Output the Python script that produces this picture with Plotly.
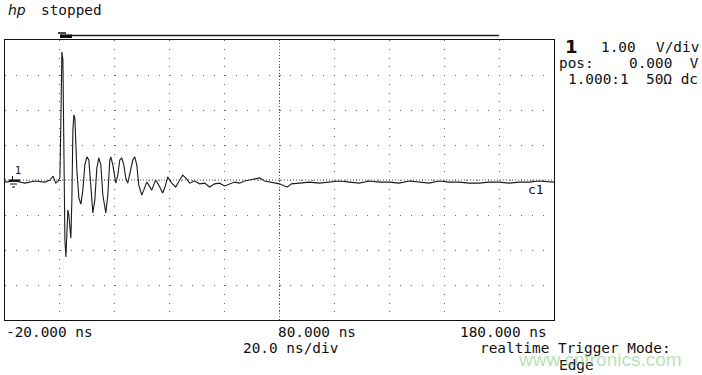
import plotly.graph_objects as go

# ---- data (time in ns, amplitude in V) ----
time_ns = [-20, -16.4, -12.7, -9.1, -5.5, -3.6, -2.5, -1.5, -0.7, 0,
           0.36, 0.73, 1.09, 1.45, 1.82, 2.18, 2.55, 2.91, 3.27, 4.0,
           4.36, 4.73, 5.09, 5.45, 6.18, 6.91, 7.64, 8.36, 9.09, 9.82,
           10.55, 11.27, 12.0, 12.73, 13.45, 14.18, 14.91, 15.64, 16.73, 17.45,
           18.18, 18.55, 19.27, 20.36, 21.09, 21.82, 22.55, 23.27, 24.0, 24.73,
           25.45, 26.55, 27.27, 28.0, 28.73, 29.82, 30.55, 31.64, 32.36, 33.45,
           34.18, 34.91, 36.0, 37.45, 38.18, 39.27, 40.73, 42.18, 43.64, 44.73,
           46.18, 47.27, 49.09, 50.91, 52.73, 54.55, 56.36, 58.18, 60.0, 61.82,
           63.64, 65.45, 67.27, 69.09, 70.91, 72.73, 74.55, 76.36, 78.18, 80.0,
           81.82, 82.91, 84.36, 87.27, 90.91, 94.55, 98.18, 101.8, 105.5, 109.1,
           112.7, 116.4, 120.0, 123.6, 127.3, 130.9, 134.5, 138.2, 141.8, 145.5,
           149.1, 152.7, 156.4, 160.0, 163.6, 167.3, 170.9, 174.5, 180.0]
volts = [-0.06, -0.03, -0.09, -0.03, -0.06, 0, 0.11, -0.09, -0.03, 0.06,
         1.71, 3.66, 3.43, 0, -1.71, -2.2, -1.57, -0.86, -1.0, -1.66,
         -0.57, 1.43, 1.86, 1.77, 0.29, -0.51, -0.69, -0.29, 0.43, 0.66,
         0.57, -0.29, -0.94, -0.57, 0.34, 0.63, 0.43, -0.43, -0.94, -0.43,
         0.57, 0.66, 0.43, -0.09, 0.14, 0.57, 0.63, 0.43, 0.06, -0.09,
         0.14, 0.57, 0.66, 0.43, -0.14, -0.43, -0.29, -0.06, -0.14, -0.29,
         -0.14, 0, -0.14, -0.37, -0.23, 0.09, -0.09, -0.2, 0, 0.14,
         0.03, -0.09, -0.03, -0.11, -0.09, -0.2, -0.11, -0.09, -0.17, -0.11,
         -0.06, -0.09, -0.03, 0, 0.03, 0.06, -0.03, -0.06, -0.09, -0.11,
         -0.17, -0.2, -0.11, -0.09, -0.06, -0.09, -0.06, -0.03, -0.06, -0.09,
         -0.03, -0.06, -0.06, -0.09, -0.03, -0.06, -0.09, -0.03, -0.06, -0.06,
         -0.09, -0.09, -0.06, -0.06, -0.09, -0.06, -0.06, -0.03, -0.06]

x_range = [-20, 180]        # ns
y_range = [-4, 4]           # V
x_div = 20                  # ns/div
y_div = 1                   # V/div
trigger_window = [0, 160]   # ns

x_labels = ["-20.000 ns", "80.000 ns", "180.000 ns"]
timebase_label = "20.0 ns/div"

# ---- layout geometry ----
W, H = 702, 375
L, R, T, B = 5, 148, 40, 55
PW, PH = W - L - R, H - T - B

def px(x):
    return (x - L) / PW

def py(y):
    return (H - B - y) / PH

MONO = "DejaVu Sans Mono"
FS = 14.4

fig = go.Figure()
fig.add_trace(go.Scatter(x=time_ns, y=volts, mode="lines",
                         line=dict(color="#1a1a1a", width=1.1),
                         hoverinfo="skip", showlegend=False))

shapes = []
# dense dotted center cross
shapes.append(dict(type="line", xref="x", yref="paper", x0=80, x1=80, y0=0, y1=1,
                   line=dict(color="#555555", width=1, dash="1px,2px")))
shapes.append(dict(type="line", xref="paper", yref="y", x0=0, x1=1, y0=0, y1=0,
                   line=dict(color="#555555", width=1, dash="1px,2px")))
# trigger / window bar above the screen
shapes.append(dict(type="line", xref="x", yref="paper", x0=trigger_window[0], x1=trigger_window[1],
                   y0=py(35.5), y1=py(35.5), line=dict(color="#222222", width=1.5)))
shapes.append(dict(type="rect", xref="paper", yref="paper", x0=px(60), x1=px(72),
                   y0=py(38), y1=py(34.5), line=dict(width=0), fillcolor="#111111"))
shapes.append(dict(type="line", xref="paper", yref="paper", x0=px(58), x1=px(66),
                   y0=py(33), y1=py(33), line=dict(color="#111111", width=1.5)))
# ground marker on the left
shapes.append(dict(type="line", xref="paper", yref="paper", x0=px(9), x1=px(20),
                   y0=py(180.5), y1=py(180.5), line=dict(color="#111111", width=2)))
shapes.append(dict(type="line", xref="paper", yref="paper", x0=px(10), x1=px(17),
                   y0=py(184), y1=py(184), line=dict(color="#111111", width=1)))
shapes.append(dict(type="line", xref="paper", yref="paper", x0=px(12), x1=px(15),
                   y0=py(187), y1=py(187), line=dict(color="#111111", width=1)))
shapes.append(dict(type="line", xref="paper", yref="paper", x0=px(12.5), x1=px(12.5),
                   y0=py(176), y1=py(181), line=dict(color="#111111", width=1)))

def ann(text, x, y, xanchor="left", size=FS, family=MONO, color="#111111"):
    return dict(text=text, xref="paper", yref="paper", x=px(x), y=py(y),
                xanchor=xanchor, yanchor="middle", showarrow=False,
                font=dict(family=family, size=size, color=color))

annotations = [
    ann("<i>hp</i>", 6, 10, size=14, family="DejaVu Sans"),
    ann("stopped", 39, 10),
    ann("<b>1</b>", 563, 46, size=18, family="DejaVu Sans"),
    ann("1.00", 599, 47),
    ann("V/div", 701, 47, xanchor="right"),
    ann("pos:", 557, 63),
    ann("0.000  V", 701, 63, xanchor="right"),
    ann("1.000:1  50Ω dc", 566, 79),
    ann(x_labels[0], 4, 332),
    ann(x_labels[1], 276, 332),
    ann(x_labels[2], 549, 332, xanchor="right"),
    ann(timebase_label, 241, 348),
    ann("realtime Trigger Mode:", 478, 348),
    ann("Edge", 557, 365),
    ann("1", 13, 170, size=10, family="DejaVu Sans"),
    ann("c1", 546, 189, xanchor="right", size=13),
    ann("www.cntronics.com", 600, 359, xanchor="center", size=19,
        family="Liberation Sans", color="rgba(120,200,120,0.55)"),
]

fig.update_layout(
    width=W, height=H,
    margin=dict(l=L, r=R, t=T, b=B, pad=0),
    paper_bgcolor="white", plot_bgcolor="white",
    showlegend=False,
    shapes=shapes, annotations=annotations,
    xaxis=dict(range=x_range, tick0=x_range[0], dtick=x_div,
               showgrid=True, gridcolor="#666666", gridwidth=1, griddash="1px,7.75px",
               showticklabels=False, ticks="", zeroline=False,
               showline=True, mirror=True, linecolor="#111111", linewidth=1.2),
    yaxis=dict(range=y_range, tick0=y_range[0], dtick=y_div,
               showgrid=True, gridcolor="#666666", gridwidth=1, griddash="1px,9.98px",
               showticklabels=False, ticks="", zeroline=False,
               showline=True, mirror=True, linecolor="#111111", linewidth=1.2),
)

fig.write_html("out.html", config={"displayModeBar": False},
               post_script="document.body.style.margin='0px';document.body.style.overflow='hidden';")
